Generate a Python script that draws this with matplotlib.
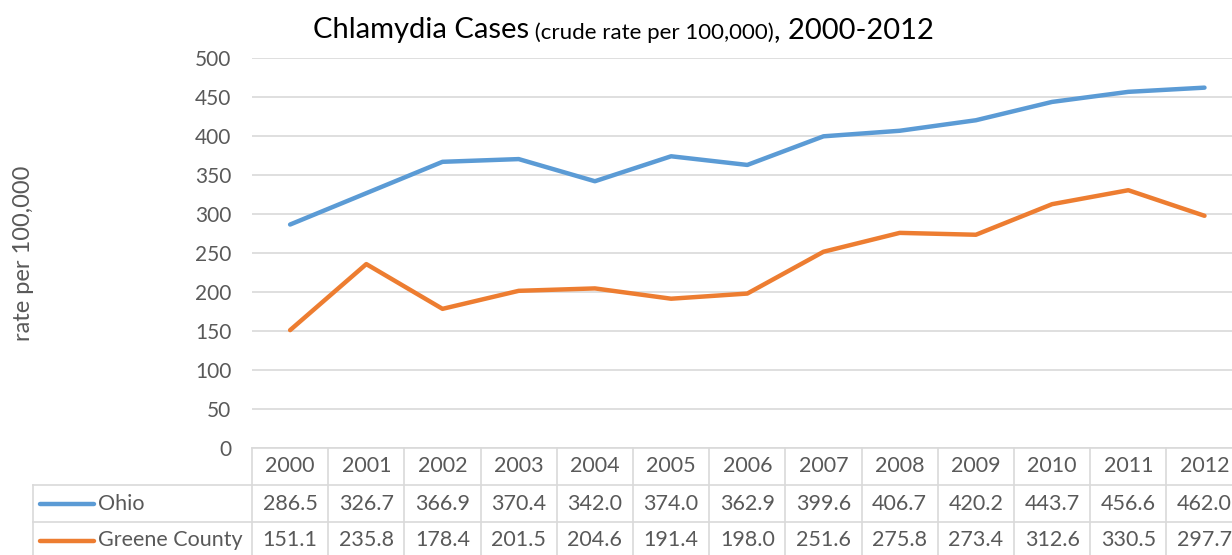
import matplotlib.pyplot as plt
from matplotlib.lines import Line2D

years = [2000, 2001, 2002, 2003, 2004, 2005, 2006, 2007, 2008, 2009, 2010, 2011, 2012]
ohio = [286.5, 326.7, 366.9, 370.4, 342.0, 374.0, 362.9, 399.6, 406.7, 420.2, 443.7, 456.6, 462.0]
greene = [151.1, 235.8, 178.4, 201.5, 204.6, 191.4, 198.0, 251.6, 275.8, 273.4, 312.6, 330.5, 297.7]
series_names = ['Ohio', 'Greene County']
y_ticks = [0, 50, 100, 150, 200, 250, 300, 350, 400, 450, 500]

BLUE = '#5B9BD5'
ORANGE = '#ED7D31'
GRID = '#D9D9D9'
TXT = '#595959'

plt.rcParams['font.family'] = ['Lato', 'DejaVu Sans']

W, H = 1232, 555
fig = plt.figure(figsize=(W / 100, H / 100), dpi=100)

# plot area in pixels: left 252, bottom 448, top 58, 13 columns of ~76.2 px
left_px, bottom_px, top_px = 252, 448, 58
col_w = 76.2
ax = fig.add_axes([left_px / W, 1 - bottom_px / H,
                   col_w * len(years) / W, (bottom_px - top_px) / H])

x = list(range(len(years)))
ax.plot(x, ohio, color=BLUE, lw=3.2, solid_capstyle='round', clip_on=False)
ax.plot(x, greene, color=ORANGE, lw=3.2, solid_capstyle='round', clip_on=False)

ax.set_xlim(-0.5, len(years) - 0.5)
ax.set_ylim(0, 500)
ax.set_yticks(y_ticks)
ax.yaxis.grid(True, color=GRID, lw=1.2)
ax.set_axisbelow(True)
ax.tick_params(axis='y', length=0, pad=15, labelsize=15, labelcolor=TXT)
ax.set_xticks([])
for s in ['top', 'right', 'left']:
    ax.spines[s].set_visible(False)
ax.spines['bottom'].set_color(GRID)
ax.spines['bottom'].set_linewidth(1.2)

ax.set_ylabel('rate per 100,000', fontsize=17, color=TXT, labelpad=0)
ax.yaxis.set_label_coords((34 - left_px) / (col_w * len(years)), 0.5)

# data table below the axes
tr = ax.get_xaxis_transform()
ah = bottom_px - top_px
rows_y = [0, -37 / ah, -74 / ah, -111 / ah]
legend_left = -0.5 + (33 - left_px) / col_w
x_right = len(years) - 0.5

def hline(x0, x1, y):
    ax.add_line(Line2D([x0, x1], [y, y], transform=tr, color=GRID, lw=1.2, clip_on=False))

def vline(xx, y0, y1):
    ax.add_line(Line2D([xx, xx], [y0, y1], transform=tr, color=GRID, lw=1.2, clip_on=False))

hline(legend_left, x_right, rows_y[1])
hline(legend_left, x_right, rows_y[2])
vline(legend_left, rows_y[1], rows_y[3])
for i in range(len(years) + 1):
    vline(i - 0.5, rows_y[0], rows_y[3])

for i, yr in enumerate(years):
    ax.text(i, (rows_y[0] + rows_y[1]) / 2, str(yr), transform=tr, ha='center',
            va='center', fontsize=15.5, color=TXT, clip_on=False)
for r, (vals, col) in enumerate([(ohio, BLUE), (greene, ORANGE)]):
    yc = (rows_y[r + 1] + rows_y[r + 2]) / 2
    for i, v in enumerate(vals):
        ax.text(i, yc, f'{v:.1f}', transform=tr, ha='center', va='center',
                fontsize=15.5, color=TXT, clip_on=False)
    lx0 = legend_left + 7 / col_w
    lx1 = legend_left + 61 / col_w
    ax.add_line(Line2D([lx0, lx1], [yc, yc], transform=tr, color=col, lw=3.2,
                       solid_capstyle='round', clip_on=False))
    ax.text(legend_left + 65 / col_w, yc, series_names[r], transform=tr, ha='left',
            va='center', fontsize=15.5, color=TXT, clip_on=False)

# title in three pieces
t1 = fig.text(313 / W, 1 - 38 / H, 'Chlamydia Cases', fontsize=21, color='black',
              ha='left', va='baseline')
t2 = ax.annotate(' (crude rate per 100,000)', xy=(1, 0), xycoords=t1, fontsize=16,
                 color='black', ha='left', va='bottom')
t3 = ax.annotate(', 2000-2012', xy=(1, 0), xycoords=t2, fontsize=21,
                 color='black', ha='left', va='bottom')

fig.savefig('out.png', dpi=100)
